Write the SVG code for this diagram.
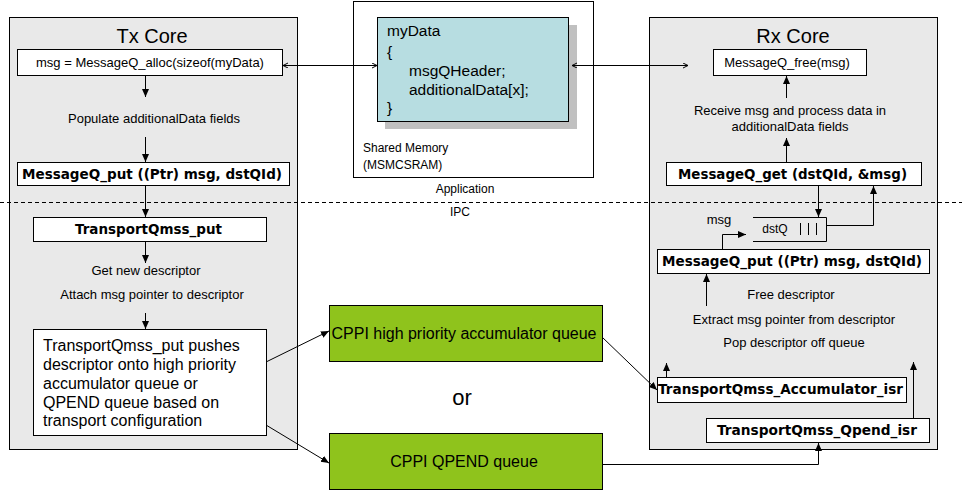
<svg xmlns="http://www.w3.org/2000/svg" width="962" height="501" viewBox="0 0 962 501">
<defs>
<marker id="ah" markerUnits="userSpaceOnUse" markerWidth="9" markerHeight="8" refX="8" refY="3.5" orient="auto">
<path d="M0,0 L8,3.5 L0,7 z" fill="#000"/>
</marker>
<marker id="oh" markerUnits="userSpaceOnUse" markerWidth="6" markerHeight="6" refX="5" refY="2.5" orient="auto-start-reverse">
<path d="M0,0 L5,2.5 L0,5" fill="none" stroke="#000" stroke-width="1"/>
</marker>
</defs>
<style>
.panel{fill:#e9e9e9;stroke:#000;stroke-width:1}
.box{fill:#fff;stroke:#000;stroke-width:1}
.green{fill:#8fc31c;stroke:#000;stroke-width:1}
.t{font-family:"Liberation Sans",Arial,sans-serif;fill:#000}
.b{font-family:"DejaVu Sans",Verdana,sans-serif;font-weight:bold;font-size:13.5px;fill:#000}
.c{stroke:#000;stroke-width:1;fill:none;marker-end:url(#ah)}
.n{stroke:#000;stroke-width:1;fill:none}
</style>
<rect width="962" height="501" fill="#fff"/>

<g id="tx-core">
<rect class="panel" x="9.5" y="17.5" width="288" height="432"/>
<text class="t" x="152" y="43" font-size="20" text-anchor="middle">Tx Core</text>
</g>
<g id="rx-core">
<rect class="panel" x="649.5" y="17.5" width="288" height="432"/>
<text class="t" x="793" y="43" font-size="20" text-anchor="middle">Rx Core</text>
</g>

<g id="shared-memory">
<rect class="box" x="353.5" y="1.5" width="240" height="176"/>
<rect x="385" y="25" width="192" height="104" fill="#c0c0c0"/>
<rect x="377.5" y="17.5" width="191" height="104" fill="#b7dde1" stroke="#000" stroke-width="1"/>
<text class="t" font-size="15.5"><tspan x="387" y="36">myData</tspan><tspan x="387" y="57">{</tspan><tspan x="409" y="76">msgQHeader;</tspan><tspan x="409" y="95">additionalData[x];</tspan><tspan x="387" y="113">}</tspan></text>
<text class="t" font-size="12"><tspan x="363" y="152">Shared Memory</tspan><tspan x="363" y="169">(MSMCSRAM)</tspan></text>
</g>

<g id="layer-labels">
<text class="t" x="465" y="193" font-size="12" text-anchor="middle">Application</text>
<text class="t" x="460" y="216" font-size="12" text-anchor="middle">IPC</text>
<line x1="0" y1="202.5" x2="962" y2="202.5" stroke="#000" stroke-width="1" stroke-dasharray="4,3"/>
</g>

<g id="tx-alloc">
<rect class="box" x="17.5" y="49.5" width="265" height="26"/>
<text class="t" x="150" y="67" font-size="13" text-anchor="middle">msg = MessageQ_alloc(sizeof(myData)</text>
</g>
<g id="tx-populate">
<text class="t" x="154" y="123" font-size="13" text-anchor="middle">Populate additionalData fields</text>
</g>
<g id="tx-put">
<rect class="box" x="17.5" y="162.5" width="272" height="23"/>
<text class="b" x="152" y="178.5" text-anchor="middle" textLength="260" lengthAdjust="spacingAndGlyphs">MessageQ_put ((Ptr) msg, dstQId)</text>
</g>
<g id="tx-transport-put">
<rect class="box" x="33.5" y="217.5" width="233" height="24"/>
<text class="b" x="148.5" y="234" text-anchor="middle" textLength="147" lengthAdjust="spacingAndGlyphs">TransportQmss_put</text>
</g>
<g id="tx-descriptor">
<text class="t" x="146" y="275" font-size="13" text-anchor="middle">Get new descriptor</text>
<text class="t" x="152" y="299" font-size="13" text-anchor="middle">Attach msg pointer to descriptor</text>
</g>
<g id="tx-push">
<rect class="box" x="33.5" y="329.5" width="233" height="106"/>
<text class="t" font-size="16"><tspan x="43" y="351">TransportQmss_put pushes</tspan><tspan x="43" y="370">descriptor onto high priority</tspan><tspan x="43" y="389">accumulator queue or</tspan><tspan x="43" y="408">QPEND queue based on</tspan><tspan x="43" y="426">transport configuration</tspan></text>
</g>

<g id="cppi-accum">
<rect class="green" x="329.5" y="305.5" width="273" height="56"/>
<text class="t" x="464" y="339" font-size="16" text-anchor="middle">CPPI high priority accumulator queue</text>
</g>
<g id="or-label">
<text class="t" x="462" y="405" font-size="22" text-anchor="middle">or</text>
</g>
<g id="cppi-qpend">
<rect class="green" x="329.5" y="433.5" width="273" height="56"/>
<text class="t" x="464" y="467" font-size="16" text-anchor="middle">CPPI QPEND queue</text>
</g>

<g id="rx-free">
<rect class="box" x="713.5" y="49.5" width="153" height="26"/>
<text class="t" x="787" y="67" font-size="13" text-anchor="middle">MessageQ_free(msg)</text>
</g>
<g id="rx-receive">
<text class="t" x="790" y="115" font-size="13" text-anchor="middle">Receive msg and process data in</text>
<text class="t" x="790" y="131" font-size="13" text-anchor="middle">additionalData fields</text>
</g>
<g id="rx-get">
<rect class="box" x="666.5" y="162.5" width="255" height="23"/>
<text class="b" x="792.5" y="178.5" text-anchor="middle" textLength="229" lengthAdjust="spacingAndGlyphs">MessageQ_get (dstQId, &amp;msg)</text>
</g>
<g id="rx-dstq">
<path class="n" d="M753,217.5 H826.5 V241.5 H753"/>
<text class="t" x="775" y="233" font-size="12" text-anchor="middle">dstQ</text>
<path class="n" d="M800.5,223 V235 M808.5,223 V235 M816.5,223 V235"/>
<text class="t" x="719" y="224" font-size="13" text-anchor="middle">msg</text>
</g>
<g id="rx-put">
<rect class="box" x="657.5" y="249.5" width="272" height="24"/>
<text class="b" x="792" y="266" text-anchor="middle" textLength="260" lengthAdjust="spacingAndGlyphs">MessageQ_put ((Ptr) msg, dstQId)</text>
</g>
<g id="rx-descriptor">
<text class="t" x="791" y="299" font-size="13" text-anchor="middle">Free descriptor</text>
<text class="t" x="794" y="324" font-size="13" text-anchor="middle">Extract msg pointer from descriptor</text>
<text class="t" x="794" y="347" font-size="13" text-anchor="middle">Pop descriptor off queue</text>
</g>
<g id="rx-accum-isr">
<rect class="box" x="657.5" y="377.5" width="249" height="25"/>
<text class="b" x="780.5" y="394" text-anchor="middle" textLength="245" lengthAdjust="spacingAndGlyphs">TransportQmss_Accumulator_isr</text>
</g>
<g id="rx-qpend-isr">
<rect class="box" x="706.5" y="418.5" width="223" height="24"/>
<text class="b" x="817" y="435" text-anchor="middle" textLength="200" lengthAdjust="spacingAndGlyphs">TransportQmss_Qpend_isr</text>
</g>

<g id="connectors">
<line class="n" x1="283" y1="65.5" x2="377" y2="65.5" marker-start="url(#oh)" marker-end="url(#oh)"/>
<line class="n" x1="572" y1="65.5" x2="688" y2="65.5" marker-start="url(#oh)" marker-end="url(#oh)"/>
<line class="c" x1="145.5" y1="76" x2="145.5" y2="97"/>
<line class="c" x1="145.5" y1="137" x2="145.5" y2="162"/>
<line class="c" x1="145.5" y1="186" x2="145.5" y2="217"/>
<line class="c" x1="145.5" y1="242" x2="145.5" y2="263"/>
<line class="c" x1="145.5" y1="313" x2="145.5" y2="329"/>
<line class="c" x1="266" y1="362" x2="329" y2="331"/>
<line class="c" x1="266" y1="425" x2="329" y2="463"/>
<line class="c" x1="602" y1="337" x2="657" y2="390"/>
<path class="c" d="M602,464.5 H818.5 V443"/>
<line class="c" x1="786.5" y1="98" x2="786.5" y2="76"/>
<line class="c" x1="786.5" y1="162" x2="786.5" y2="138"/>
<line class="c" x1="818.5" y1="186" x2="818.5" y2="217"/>
<path class="c" d="M826.5,225.5 H873.5 V186"/>
<path class="c" d="M722.5,249 V234.5 H746"/>
<line class="c" x1="706.5" y1="306" x2="706.5" y2="274"/>
<line class="c" x1="666.5" y1="377" x2="666.5" y2="363"/>
<line class="c" x1="913.5" y1="418" x2="913.5" y2="362"/>
</g>
</svg>
